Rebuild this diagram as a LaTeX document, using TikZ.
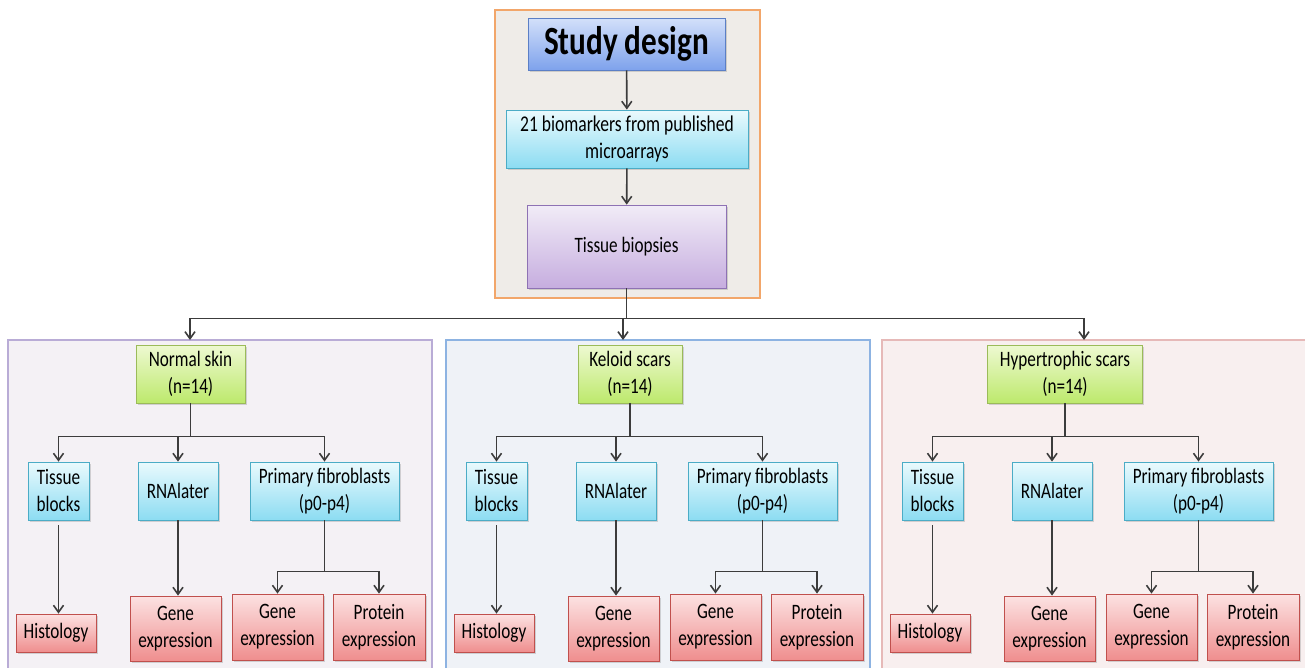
\documentclass[tikz,border=0pt]{standalone}
\usepackage{fontspec}
\setmainfont{Carlito}[FakeStretch=0.78]
\usetikzlibrary{positioning,arrows.meta,shadows,calc}

\definecolor{linkgray}{HTML}{3C3C3C}
\definecolor{sdtop}{HTML}{D3E0FA}
\definecolor{sdbot}{HTML}{7EA2EC}
\definecolor{sddraw}{HTML}{5B7FC6}
\definecolor{cytop}{HTML}{EAFAFD}
\definecolor{cybot}{HTML}{8CDCF2}
\definecolor{cydraw}{HTML}{4BACC6}
\definecolor{putop}{HTML}{F1ECF7}
\definecolor{pubot}{HTML}{C6ADDF}
\definecolor{pudraw}{HTML}{8E72B4}
\definecolor{grtop}{HTML}{EEF9D2}
\definecolor{grbot}{HTML}{BDE96C}
\definecolor{grdraw}{HTML}{9BBB59}
\definecolor{rdtop}{HTML}{FCE2E2}
\definecolor{rdbot}{HTML}{EF8E8E}
\definecolor{rddraw}{HTML}{C0504D}
\definecolor{topfill}{HTML}{EFECE8}
\definecolor{topdraw}{HTML}{F2A66A}
\definecolor{nfill}{HTML}{F4F1F5}
\definecolor{ndraw}{HTML}{B9ACD6}
\definecolor{kfill}{HTML}{EFF2F7}
\definecolor{kdraw}{HTML}{8DB3E2}
\definecolor{hfill}{HTML}{F8EFEF}
\definecolor{hdraw}{HTML}{E6B9B8}

\begin{document}
\begin{tikzpicture}[x=1pt,y=-1pt,
    box/.style={draw, line width=0.8pt, align=center, inner sep=2pt,
        font=\fontsize{22}{27}\selectfont,
        drop shadow={opacity=0.3, shadow xshift=1.5pt, shadow yshift=-1.5pt}},
    sdbox/.style={box, draw=sddraw, top color=sdtop, bottom color=sdbot},
    cybox/.style={box, draw=cydraw, top color=cytop, bottom color=cybot},
    pubox/.style={box, draw=pudraw, top color=putop, bottom color=pubot},
    grbox/.style={box, draw=grdraw, top color=grtop, bottom color=grbot},
    rdbox/.style={box, draw=rddraw, top color=rdtop, bottom color=rdbot},
    frame/.style={draw, line width=1.2pt, inner sep=0pt},
    link/.style={draw=linkgray, line width=1.6pt},
    arr/.style={link, -{Straight Barb[length=7pt,width=10pt]}}]
    \useasboundingbox[fill=white] (0,0) rectangle (1305,667);

    % top part
    \node (top) [frame, draw=topdraw, fill=topfill, minimum width=265, minimum height=288] at (627.5,154) {};
    \node (sd)  [sdbox, minimum width=197, minimum height=52,
        font=\fontsize{40}{44}\selectfont\bfseries] at (626.5,44) {Study design};
    \node (bm)  [cybox, minimum width=242, minimum height=58,
        font=\fontsize{22.5}{27}\selectfont] at (627,139) {21 biomarkers from published\\microarrays};
    \node (tbx) [pubox, minimum width=199, minimum height=83,
        font=\fontsize{22}{27}\selectfont] at (626.5,246.5) {Tissue biopsies};
    \draw [arr] (sd) -- (bm);
    \draw [arr] (bm) -- (tbx);

    % the three groups
    \foreach \k/\dx/\gx/\ax/\gw/\fc/\bc/\lbl in {
        n/0/190.5/190/109/nfill/ndraw/{Normal skin\\(n=14)},
        k/438/630/623/104/kfill/kdraw/{Keloid scars\\(n=14)},
        h/874/1065/1084/155/hfill/hdraw/{Hypertrophic scars\\(n=14)}}
    {
        \node (grp\k) [frame, draw=\bc, fill=\fc, minimum width=424, minimum height=340] at (220+\dx,510) {};
        \coordinate (in\k) at (\ax,340);
        \node (g\k)   [grbox, minimum width=\gw, minimum height=58] at (\gx,374) {\lbl};
        \node (tb\k)  [cybox, minimum width=61,  minimum height=58] at (58.5+\dx,491) {Tissue\\blocks};
        \node (rna\k) [cybox, minimum width=80,  minimum height=58] at (178+\dx,491) {RNAlater};
        \node (pf\k)  [cybox, minimum width=149, minimum height=58] at (324.5+\dx,491) {Primary fibroblasts\\(p0-p4)};
        \node (hi\k)  [rdbox, minimum width=80,  minimum height=38] at (56+\dx,633) {Histology};
        \node (ga\k)  [rdbox, minimum width=91,  minimum height=65] at (175.5+\dx,628.5) {Gene\\expression};
        \node (gb\k)  [rdbox, minimum width=91,  minimum height=66] at (277.5+\dx,627) {Gene\\expression};
        \node (pe\k)  [rdbox, minimum width=92,  minimum height=66] at (379+\dx,627) {Protein\\expression};
        \draw [arr] (tbx.south) -- ++(0,30) -| (in\k);
        \draw [arr] (g\k.south) -- ++(0,33) -| (tb\k);
        \draw [arr] (g\k.south) -- ++(0,33) -| (rna\k);
        \draw [arr] (g\k.south) -- ++(0,33) -| (pf\k);
        \draw [arr, shorten <=5pt] (tb\k.south) -- (tb\k.south |- hi\k.north);
        \draw [arr] (rna\k.south) -- (rna\k.south |- ga\k.north);
        \draw [arr] (pf\k.south) -- ++(0,51) -| (gb\k);
        \draw [arr] (pf\k.south) -- ++(0,51) -| (pe\k);
    }
\end{tikzpicture}
\end{document}
